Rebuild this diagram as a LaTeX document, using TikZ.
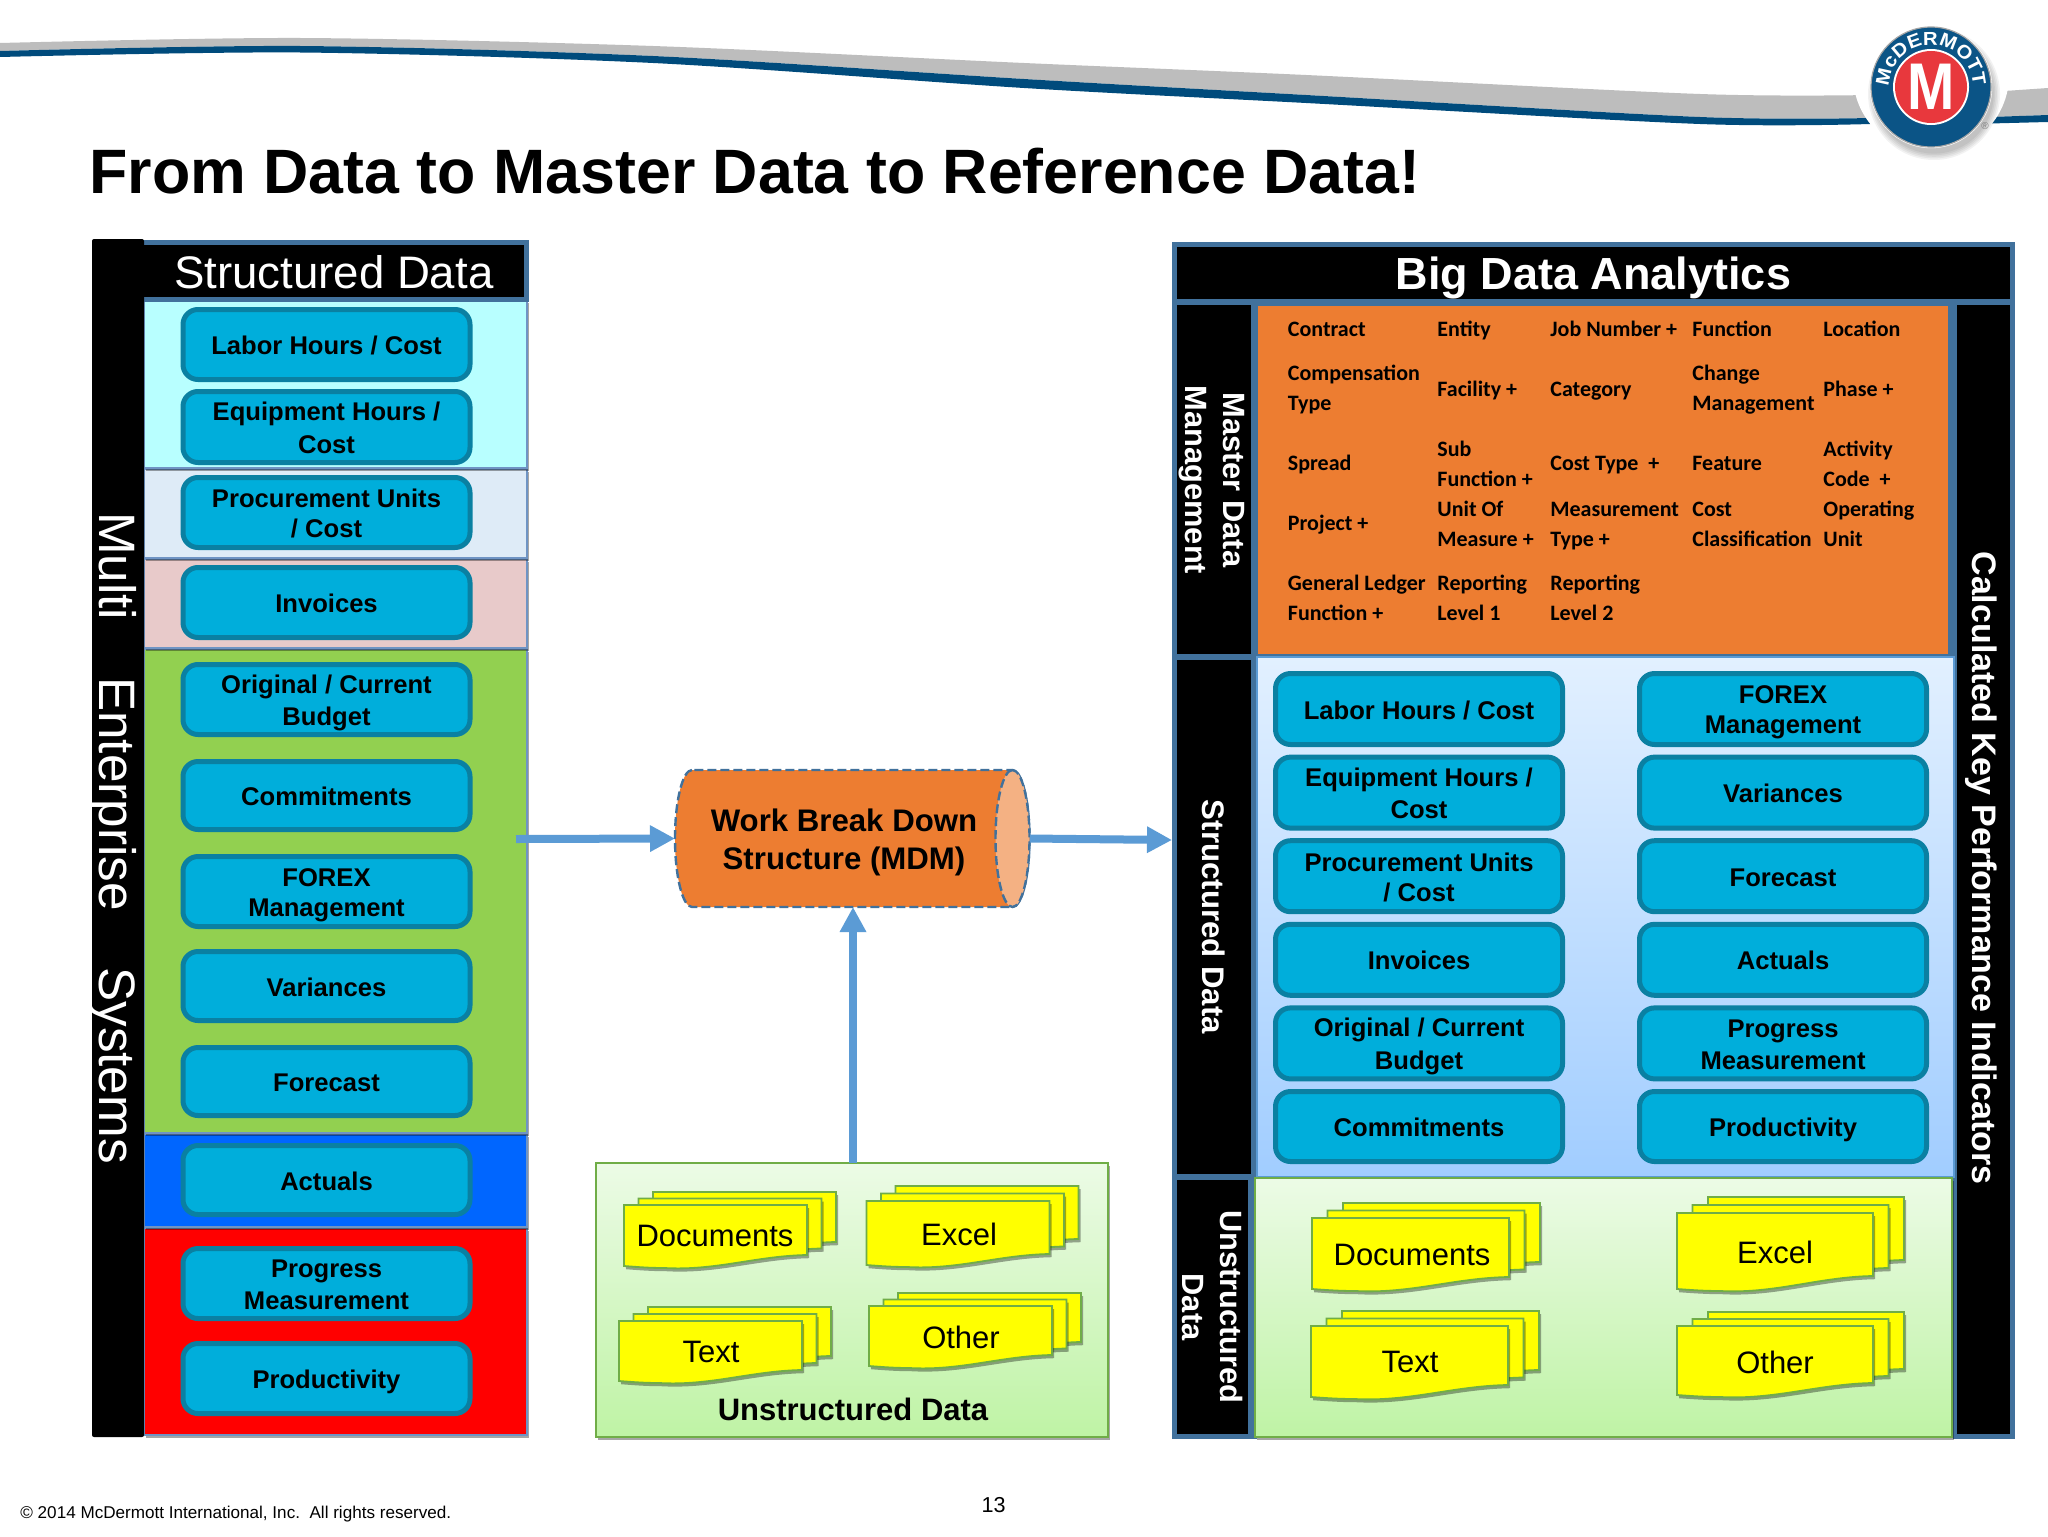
\documentclass[tikz,border=0pt]{standalone}
\usepackage{fontspec}
\setmainfont{Liberation Sans}
\newfontfamily\calfont{Carlito}
\newfontfamily\logofont{Liberation Sans}[UprightFont=* Bold,FakeStretch=1.08]
\usetikzlibrary{arrows.meta,shadows,decorations.text}
\definecolor{frameblue}{HTML}{41719C}
\definecolor{bandline}{HTML}{6F94C4}
\definecolor{boxfill}{HTML}{00AEDB}
\definecolor{boxline}{HTML}{0A80A2}
\definecolor{arrowblue}{HTML}{5B9BD5}
\definecolor{cylorange}{HTML}{ED7D31}
\definecolor{cylend}{HTML}{F4B183}
\definecolor{stackline}{HTML}{70AD47}
\definecolor{stackyellow}{HTML}{FFFF00}
\definecolor{logoblue}{HTML}{0B5486}
\definecolor{logored}{HTML}{E8383D}
\definecolor{swgrey}{HTML}{BDBDBD}
\definecolor{swblue}{HTML}{004B7C}
\definecolor{bandred}{HTML}{FF0000}
\definecolor{bandblue}{HTML}{0066FF}
\definecolor{bandgreen}{HTML}{92D050}
\definecolor{bandpink}{HTML}{E8CACA}
\definecolor{bandpale}{HTML}{DEEBF7}
\definecolor{bandcyan}{HTML}{B8FFFF}
\definecolor{greentop}{HTML}{ECFBE6}
\definecolor{greenbot}{HTML}{BFF3A5}
\definecolor{paletop}{HTML}{E2F0FF}
\definecolor{palebot}{HTML}{A1CDFF}
\tikzset{
  x=0.5pt,y=-0.5pt,
  rn/.style={rectangle,inner sep=0pt,outer sep=0pt},
  softshadow/.style={drop shadow={shadow xshift=1pt,shadow yshift=-1.6pt,opacity=.35,fill=black}},
  band/.style={rn,draw=bandline,line width=0.8pt,softshadow},
  blackbar/.style={rn,fill=black,text=white},
  framepart/.style={rn,fill=frameblue},
  bx/.style={rectangle,rounded corners=7.5pt,inner sep=0pt,outer sep=0pt,fill=boxfill,draw=boxline,line width=2.5pt,
    align=center,font=\fontsize{12.8}{15}\selectfont\bfseries},
  stacklayer/.style={fill=stackyellow,draw=stackline,line width=0.9pt,softshadow},
  stx/.style={inner sep=0pt,font=\fontsize{15.5}{18}\selectfont},
  otx/.style={inner sep=0pt,anchor=west,align=left,font=\fontsize{11}{15}\selectfont\calfont\bfseries},
  flow/.style={draw=arrowblue,line width=4pt,-{Triangle[length=12.5pt,width=12.5pt]}},
  sideb/.style={inner sep=0pt,text=white,rotate=-90,align=center,font=\fontsize{15.4}{19}\selectfont\bfseries},
}
\newcommand\rnode[6][]{\node[#1,minimum width={(#4-#2)*0.5pt},minimum height={(#5-#3)*0.5pt}] (#6) at ({(#2+#4)/2},{(#3+#5)/2})}
\newcommand\bxn[5]{\node[bx,minimum width={(287)*0.5pt},minimum height={(#4-#3-5)*0.5pt}] (#1) at (#2,{(#3+#4)/2}) {#5};}
\newcommand\stackshape[5]{%
  \path[stacklayer] ({#1},{#2}) -- ({#1+#3},{#2}) -- ({#1+#3},{#2+#4})
    .. controls ({#1+.72*#3},{#2+#4+1}) and ({#1+.5*#3},{#2+#5+5}) .. ({#1+.22*#3},{#2+#5+2})
    .. controls ({#1+.14*#3},{#2+#5+2}) and ({#1+.07*#3},{#2+#5+1}) .. ({#1},{#2+#5}) -- cycle;}
\newcommand\stack[7]{% x y w hr hl bdx bdy
  \stackshape{(#1+#6)}{(#2-#7)}{#3}{#4}{#5}%
  \stackshape{(#1+#6/2)}{(#2-#7/2)}{#3}{#4}{#5}%
  \stackshape{#1}{#2}{#3}{#4}{#5}}
% line struts: spacing 15pt, baseline lowered so that capitals sit on the line centre
\newcommand\st{\rule[-2.5pt]{0pt}{15pt}}
\newcommand\sto{\rule[-3.8pt]{0pt}{15pt}}
\begin{document}
\begin{tikzpicture}
\useasboundingbox (0,0) rectangle (2048,1536);
\fill[white] (0,0) rectangle (2048,1536);

% swoosh
\fill[swgrey] plot[smooth] coordinates {(0,43) (300,38) (653,46) (1024,63) (1306,75) (1700,94) (1870,95)}
  -- plot[smooth] coordinates {(1870,118) (1700,117) (1306,95) (1024,79) (653,56) (300,46) (0,51)} -- cycle;
\fill[swblue] plot[smooth] coordinates {(0,51) (300,46) (653,56) (1024,79) (1306,95) (1700,117) (1870,118)}
  -- plot[smooth] coordinates {(1870,124) (1700,124) (1306,103) (1024,88) (653,63) (300,52.5) (0,57)} -- cycle;
\fill[swgrey] (1990,92) -- (2048,88) -- (2048,115) -- (1990,117) -- cycle;
\fill[swblue] (1990,117) -- (2048,115) -- (2048,122) -- (1990,123.5) -- cycle;
\fill[white] (1931,75) circle[radius=39pt];

% logo
\foreach \r in {33,32.2,31.4,30.6,29.8}
  \fill[black,opacity=.05] (1934,94) circle[radius=\r pt];
\begin{scope}[shift={(1931,87)},x=1pt,y=1pt]
  \fill[white] (0,0) circle[radius=30.6pt];
  \draw[gray!70,line width=.6pt,fill=logoblue] (0,0) circle[radius=30pt];
  \fill[white] (0,0) circle[radius=19pt];
  \fill[logored] (0,0) circle[radius=18pt];
  \path[decorate,decoration={text along path,text={|\logofont\fontsize{9.4}{10}\selectfont\color{white}|McDERMOTT},text align=fit to path}]
    (179:21pt) arc (179:1:21pt);
  \node[inner sep=0pt,text=white] (logom) at (0,-0.1) {\fontsize{33}{33}\selectfont\bfseries\scalebox{.86}[1]{\special{pdf:content 2 Tr 1.3 w 0 0 0 RG}M\special{pdf:content 0 Tr}}};
\end{scope}
\node[inner sep=0pt,text=gray,font=\fontsize{5}{6}\selectfont] (reg) at (1985,126) {\textregistered};

% title
\node[inner sep=0pt,anchor=base west,font=\fontsize{31.35}{36}\selectfont\bfseries] (title) at (89,193) {From Data to Master Data to Reference Data!};

% ---------- left panel ----------
\rnode[band,fill=bandred]{144}{1228}{527}{1435}{lred} {};
\rnode[band,fill=bandblue]{144}{1134}{527}{1227}{lblue} {};
\rnode[band,fill=bandgreen]{144}{649}{527}{1133}{lgreen} {};
\rnode[band,fill=bandpink]{144}{559}{527}{648}{lpink} {};
\rnode[band,fill=bandpale]{144}{469}{527}{558}{lpale} {};
\rnode[band,fill=bandcyan]{144}{300}{527}{468}{lcyan} {};
\rnode[rn,fill=black,draw=frameblue,line width=2.5pt,text=white,font=\fontsize{22.8}{26}\selectfont]{141}{242}{526.5}{299.5}{lhead} {\raisebox{-8.7pt}[0pt][0pt]{Structured Data}\hspace{1pt}};
\rnode[blackbar,rounded corners=1pt]{92}{239}{144}{1437}{lbar} {};
\node[inner sep=0pt,text=white,rotate=-90,font=\fontsize{25.6}{30}\selectfont] (multi) at (113,838) {Multi~~~~Enterprise~~~~Systems};

\bxn{a1}{326.5}{307}{382}{\st Labor Hours / Cost}
\bxn{a2}{326.5}{389}{465}{\st Equipment Hours /\\\st Cost}
\bxn{a3}{326.5}{475}{550}{\st Procurement Units\\\st / Cost}
\bxn{a4}{326.5}{565}{640}{\st Invoices}
\bxn{a5}{326.5}{662}{737}{\st Original / Current\\\st Budget}
\bxn{a6}{326.5}{759}{832}{\st Commitments}
\bxn{a7}{326.5}{854}{929}{\st FOREX\\\st Management}
\bxn{a8}{326.5}{949}{1023}{\st Variances}
\bxn{a9}{326.5}{1045}{1118}{\st Forecast}
\bxn{a10}{326.5}{1143}{1217}{\st Actuals}
\bxn{a11}{326.5}{1246}{1321}{\st Progress\\\st Measurement}
\bxn{a12}{326.5}{1341}{1416}{\st Productivity}

% ---------- unstructured centre panel ----------
\rnode[rn,top color=greentop,bottom color=greenbot,draw=stackline,line width=1pt,softshadow]{596}{1163}{1108}{1437}{upanel} {};
\stack{624}{1205}{183}{50}{61}{29}{13}
\node[stx] (cd) at (715,1236) {Documents};
\stack{866.5}{1201}{183}{53}{64}{29}{15}
\node[stx] (ce) at (959,1234) {Excel};
\stack{619}{1321}{183}{49}{60}{29}{14}
\node[stx] (ct) at (711,1352) {Text};
\stack{869}{1306}{183}{49}{60}{29}{13}
\node[stx] (co) at (961,1337) {Other};
\node[inner sep=0pt,font=\fontsize{15.5}{18}\selectfont\bfseries] (utitle) at (853,1409) {Unstructured Data};

% ---------- right panel ----------
\rnode[framepart]{1172}{242}{1257}{1439}{rframel} {};
\rnode[framepart]{1953}{242}{2015}{1439}{rframer} {};
\rnode[framepart]{1172}{242}{2015}{305}{rframet} {};
\rnode[framepart]{1257}{305}{1953}{657}{rframem} {};
\rnode[blackbar,font=\fontsize{22.5}{28}\selectfont\bfseries]{1177}{247}{2010}{299}{rhead} {\raisebox{-8.1pt}[0pt][0pt]{Big Data Analytics}};
\rnode[blackbar]{1177}{305}{1251}{654}{rmdm} {};
\rnode[blackbar]{1177}{660}{1251}{1174}{rstr} {};
\rnode[blackbar]{1177}{1180}{1248}{1434}{runs} {};
\rnode[blackbar]{1957}{305}{2010}{1434}{rkpi} {};
\rnode[rn,fill=cylorange]{1258}{306}{1948}{654}{rorange} {};
\node[sideb] (t1) at (1211.5,480) {Master Data\\Management};
\node[sideb,font=\fontsize{15.6}{19}\selectfont\bfseries] (t2) at (1214,917) {Structured Data};
\node[sideb] (t3) at (1212,1307) {Unstructured\\Data};
\node[sideb,font=\fontsize{17}{20}\selectfont\bfseries] (t4) at (1981,868) {Calculated Key Performance Indicators};

\rnode[rn,top color=paletop,bottom color=palebot,draw=arrowblue,line width=.6pt]{1257}{657}{1954}{1177}{rpale} {};
\rnode[rn,top color=greentop,bottom color=greenbot,draw=stackline,line width=1pt,softshadow]{1255}{1178}{1952}{1437}{rgreen} {};

\bxn{b1}{1419}{671}{747}{\st Labor Hours / Cost}
\bxn{b2}{1419}{754.6}{830.6}{\st Equipment Hours /\\\st Cost}
\bxn{b3}{1419}{838.2}{914.2}{\st Procurement Units\\\st / Cost}
\bxn{b4}{1419}{921.8}{997.8}{\st Invoices}
\bxn{b5}{1419}{1005.4}{1081.4}{\st Original / Current\\\st Budget}
\bxn{b6}{1419}{1089}{1164}{\st Commitments}
\bxn{c1}{1783}{671}{747}{\st FOREX\\\st Management}
\bxn{c2}{1783}{754.6}{830.6}{\st Variances}
\bxn{c3}{1783}{838.2}{914.2}{\st Forecast}
\bxn{c4}{1783}{921.8}{997.8}{\st Actuals}
\bxn{c5}{1783}{1005.4}{1081.4}{\st Progress\\\st Measurement}
\bxn{c6}{1783}{1089}{1164}{\st Productivity}

\stack{1312}{1218}{197}{59}{71}{31}{15}
\node[stx] (rd) at (1412,1255) {Documents};
\stack{1311}{1326}{197}{59}{71}{31}{15}
\node[stx] (rt) at (1410,1362) {Text};
\stack{1677}{1213}{196}{63}{76}{31}{16}
\node[stx] (re) at (1775,1252) {Excel};
\stack{1677}{1326}{196}{57}{69}{31}{14}
\node[stx] (ro) at (1775,1362) {Other};

% master data grid
\node[otx] (o1) at (1287.5,329) {\sto Contract};
\node[otx] (o2) at (1287.5,388) {\sto Compensation\\\sto Type};
\node[otx] (o3) at (1287.5,463) {\sto Spread};
\node[otx] (o4) at (1287.5,523) {\sto Project +};
\node[otx] (o5) at (1287.5,598.5) {\sto General Ledger\\\sto Function +};
\node[otx] (o6) at (1437,329) {\sto Entity};
\node[otx] (o7) at (1437,389) {\sto Facility +};
\node[otx] (o8) at (1437,464) {\sto Sub\\\sto Function +};
\node[otx] (o9) at (1437,524) {\sto Unit Of\\\sto Measure +};
\node[otx] (o10) at (1437,598.5) {\sto Reporting\\\sto Level 1};
\node[otx] (o11) at (1550,329) {\sto Job Number +};
\node[otx] (o12) at (1550,389) {\sto Category};
\node[otx] (o13) at (1550,463) {\sto Cost Type~~+};
\node[otx] (o14) at (1550,524) {\sto Measurement\\\sto Type +};
\node[otx] (o15) at (1550,598.5) {\sto Reporting\\\sto Level 2};
\node[otx] (o16) at (1692,329) {\sto Function};
\node[otx] (o17) at (1692,388) {\sto Change\\\sto Management};
\node[otx] (o18) at (1692,463) {\sto Feature};
\node[otx] (o19) at (1692,524) {\sto Cost\\\sto Classification};
\node[otx] (o20) at (1823,329) {\sto Location};
\node[otx] (o21) at (1823,389) {\sto Phase +};
\node[otx] (o22) at (1823,464) {\sto Activity\\\sto Code~~+};
\node[otx] (o23) at (1823,524) {\sto Operating\\\sto Unit};

% ---------- MDM cylinder ----------
\path[fill=cylorange,draw=frameblue,line width=1.2pt,dash pattern=on 4.5pt off 2pt]
  (692,770) arc[start angle=90,end angle=270,x radius=8.5pt,y radius=34.25pt]
  -- (1012.5,907) arc[start angle=-90,end angle=90,x radius=8.5pt,y radius=34.25pt] -- cycle;
\path[fill=cylend,draw=frameblue,line width=1.2pt,dash pattern=on 4.5pt off 2pt]
  (1012.5,770) arc[start angle=90,end angle=450,x radius=8.5pt,y radius=34.25pt];
\node[rn,minimum width=177.5pt,minimum height=68.5pt] (cyl) at (852.5,838.5) {};
\node[inner sep=0pt,align=center,font=\fontsize{15.6}{19}\selectfont\bfseries] (cylt) at (844,842) {Work Break Down\\Structure (MDM)};

% ---------- connectors ----------
\coordinate (lstart) at (516,839);
\coordinate (rendy) at (0,840);
\coordinate (rend) at (rframel.west |- rendy);
\coordinate (ustart) at (853,1163);
\draw[flow] (lstart) -- (cyl.west);
\draw[flow] (cyl.east) -- (rend);
\draw[flow] (ustart) -- (ustart |- cyl.south);

% footer
\node[inner sep=0pt,anchor=west,font=\fontsize{8.55}{10}\selectfont] (foot) at (20,1514) {© 2014 McDermott International, Inc.~~All rights reserved.};
\node[inner sep=0pt,font=\fontsize{10.8}{12}\selectfont] (pg) at (993.5,1505) {13};
\end{tikzpicture}
\end{document}
